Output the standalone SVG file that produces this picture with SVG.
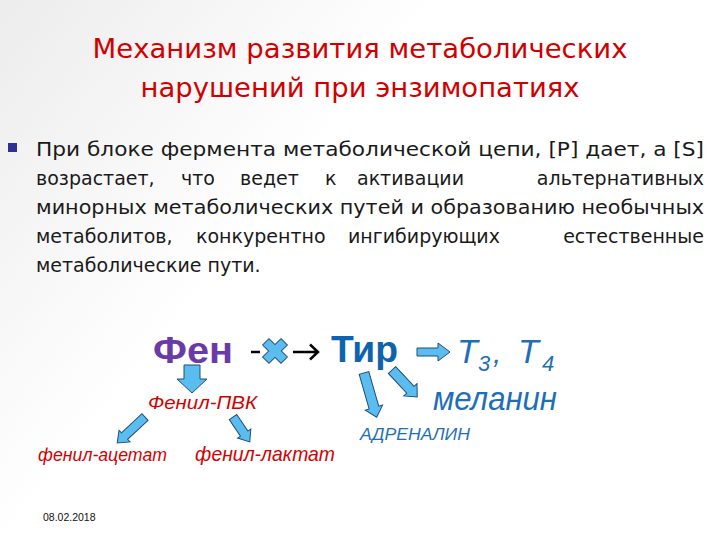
<svg xmlns="http://www.w3.org/2000/svg" width="720" height="540" viewBox="0 0 720 540">
  <defs>
    <linearGradient id="bg" x1="0" y1="0" x2="1" y2="0.6">
      <stop offset="0" stop-color="#ECECEC"/>
      <stop offset="0.45" stop-color="#FFFFFF"/>
      <stop offset="1" stop-color="#FFFFFF"/>
    </linearGradient>
    <style>
      .title { font-family: "DejaVu Sans", "Liberation Sans", sans-serif; font-size: 27px; fill: #D10000; text-anchor: middle; }
      .body { font-family: "DejaVu Sans", "Liberation Sans", sans-serif; font-size: 19px; fill: #1A1A1A; }
      .blk { fill: #5BBDEF; stroke: #1F4E79; stroke-width: 1; stroke-linejoin: miter; }
      .red { font-family: "Liberation Sans", "DejaVu Sans", sans-serif; font-style: italic; fill: #D40000; }
      .blue { font-family: "Liberation Sans", "DejaVu Sans", sans-serif; font-style: italic; fill: #1F6FB8; }
    </style>
  </defs>
  <rect x="0" y="0" width="720" height="540" fill="url(#bg)"/>

  <g id="title">
    <text class="title" x="360" y="58" textLength="535" lengthAdjust="spacingAndGlyphs">Механизм развития метаболических</text>
    <text class="title" x="360" y="97" textLength="439" lengthAdjust="spacingAndGlyphs">нарушений при энзимопатиях</text>
  </g>

  <g id="bullet-text">
    <rect x="8" y="143" width="9" height="9" fill="#2E3192"/>
    <text class="body" x="36" y="156" textLength="668" lengthAdjust="spacingAndGlyphs">При блоке фермента метаболической цепи, [P] дает, а [S]</text>
    <text class="body" y="185">
      <tspan x="36">возрастает,</tspan><tspan x="181">что</tspan><tspan x="240">ведет</tspan><tspan x="325">к</tspan><tspan x="357">активации</tspan><tspan x="704" text-anchor="end">альтернативных</tspan>
    </text>
    <text class="body" x="36" y="214" textLength="668" lengthAdjust="spacingAndGlyphs">минорных метаболических путей и образованию необычных</text>
    <text class="body" y="243">
      <tspan x="36">метаболитов,</tspan><tspan x="196">конкурентно</tspan><tspan x="348">ингибирующих</tspan><tspan x="704" text-anchor="end">естественные</tspan>
    </text>
    <text class="body" x="36" y="272">метаболические пути.</text>
  </g>

  <g id="fen">
    <text x="153" y="363" font-family="Liberation Sans, DejaVu Sans, sans-serif" font-weight="bold" font-size="37" fill="#6A3BA8" textLength="80" lengthAdjust="spacingAndGlyphs">Фен</text>
  </g>
  <g id="block">
    <line x1="251" y1="352" x2="260" y2="352" stroke="#000" stroke-width="2.5"/>
    <path class="blk" transform="translate(275,351) rotate(45) scale(1,1)" d="M-4.5,-13 L4.5,-13 L4.5,-4.5 L13,-4.5 L13,4.5 L4.5,4.5 L4.5,13 L-4.5,13 L-4.5,4.5 L-13,4.5 L-13,-4.5 L-4.5,-4.5 Z"/>
  </g>
  <g id="tir">
    <text x="331" y="362" font-family="Liberation Sans, DejaVu Sans, sans-serif" font-weight="bold" font-size="37" fill="#0E63AE" textLength="67" lengthAdjust="spacingAndGlyphs">Тир</text>
  </g>
  <g id="t3t4">
    <text class="blue" font-size="34" y="363"><tspan x="457">T</tspan><tspan x="478" y="371" font-size="22">3</tspan><tspan x="493" y="363" font-size="30">,</tspan><tspan x="518">T</tspan><tspan x="542" y="371" font-size="22">4</tspan></text>
  </g>
  <g id="melanin">
    <text class="blue" x="433" y="410" font-size="34" textLength="124" lengthAdjust="spacingAndGlyphs">меланин</text>
  </g>
  <g id="adrenalin">
    <text class="blue" x="360" y="440" font-size="17" textLength="110" lengthAdjust="spacingAndGlyphs">АДРЕНАЛИН</text>
  </g>
  <g id="fenil-pvk">
    <text class="red" x="148" y="409" font-size="18" textLength="109" lengthAdjust="spacingAndGlyphs">Фенил-ПВК</text>
  </g>
  <g id="fenil-acetat">
    <text class="red" x="38" y="461" font-size="19" textLength="129" lengthAdjust="spacingAndGlyphs">фенил-ацетат</text>
  </g>
  <g id="fenil-laktat">
    <text class="red" x="195" y="461" font-size="21" textLength="140" lengthAdjust="spacingAndGlyphs">фенил-лактат</text>
  </g>

  <g id="connectors">
    <path d="M293,352 H318 M310,344.5 L318,352 L310,359.5" fill="none" stroke="#000" stroke-width="2.5"/>
    <path class="blk" transform="translate(192,365) rotate(90)" d="M0,-8 L14,-8 L14,-15 L28,0 L14,15 L14,8 L0,8 Z"/>
    <path class="blk" transform="translate(417,352)" d="M0,-4 L21,-4 L21,-9 L33,0 L21,9 L21,4 L0,4 Z"/>
    <path class="blk" transform="translate(145,417) rotate(137)" d="M0,-4.5 L28,-4.5 L28,-8 L38,0 L28,8 L28,4.5 L0,4.5 Z"/>
    <path class="blk" transform="translate(233,417) rotate(56)" d="M0,-4.5 L20,-4.5 L20,-8 L30,0 L20,8 L20,4.5 L0,4.5 Z"/>
    <path class="blk" transform="translate(364,373) rotate(74)" d="M0,-5 L36,-5 L36,-9 L46,0 L36,9 L36,5 L0,5 Z"/>
    <path class="blk" transform="translate(392,370) rotate(47)" d="M0,-5 L27,-5 L27,-9 L37,0 L27,9 L27,5 L0,5 Z"/>
  </g>

  <g id="date">
    <text x="43" y="521" font-family="Liberation Sans, DejaVu Sans, sans-serif" font-size="10.5" fill="#111">08.02.2018</text>
  </g>
</svg>
